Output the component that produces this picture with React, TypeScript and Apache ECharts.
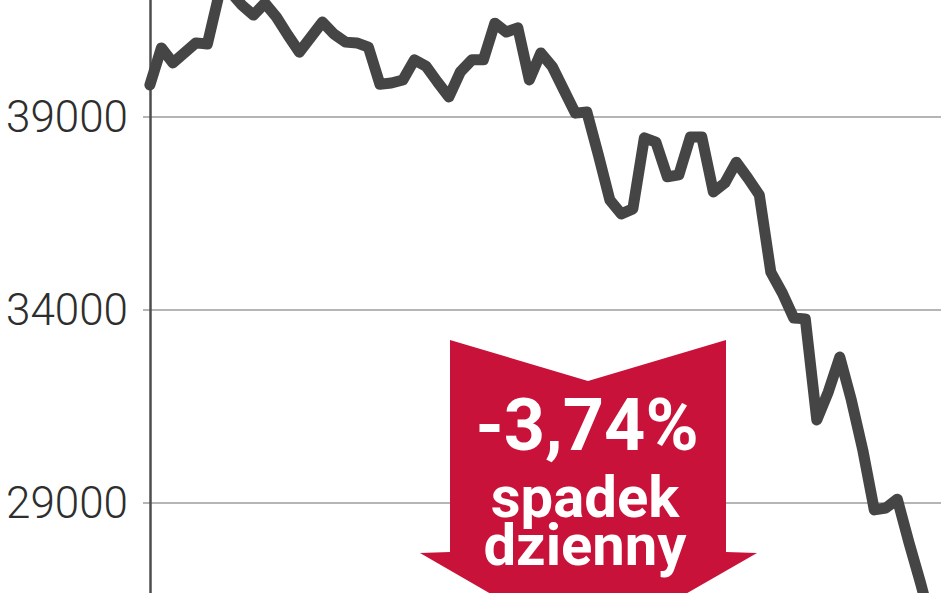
import React, { useEffect, useRef } from "react";
import * as echarts from "echarts";

// Index level by session (left to right)
const values: number[] = [
  39830, 40790, 40400, 40660, 40920, 40890, 42160, 42240, 41900, 41640,
  41950, 41590, 41120, 40680, 41070, 41460, 41150, 40940, 40920, 40810,
  39850, 39880, 39960, 40480, 40320, 39910, 39520, 40170, 40480, 40480,
  41430, 41200, 41310, 39960, 40660, 40300, 39700, 39100, 39130, 38020,
  36850, 36490, 36620, 38460, 38350, 37450, 37500, 38480, 38480, 37060,
  37290, 37830, 37420, 36980, 34980, 34440, 33790, 33770, 31150, 31880,
  32780, 31670, 30370, 28820, 28870, 29100, 27990, 26950, 25840,
];

const yTickLabels: string[] = ["29000", "34000", "39000"];

const badgeTexts: string[] = ["-3,74%", "spadek", "dzienny"];

export default function App() {
  const ref = useRef<HTMLDivElement>(null);

  useEffect(() => {
    if (!ref.current) return;
    const chart = echarts.init(ref.current, undefined, { renderer: "svg" });
    const data = values.map((v, i) => [i, v]);
    chart.setOption({
      animation: false,
      backgroundColor: "#ffffff",
      grid: {
        left: 143,
        top: -76,
        width: 798,
        height: 772,
        containLabel: false,
        outerBoundsMode: "none",
      },
      xAxis: {
        type: "value",
        min: -0.6,
        max: 68.8,
        show: false,
        splitLine: { show: false },
      },
      yAxis: {
        type: "value",
        min: 24000,
        max: 44000,
        interval: 5000,
        axisLine: { show: true, lineStyle: { color: "#4d4d4d", width: 2.5 } },
        axisTick: { show: false },
        splitLine: { show: true, lineStyle: { color: "#9c9c9c", width: 1.6 } },
        axisLabel: {
          show: true,
          margin: 15,
          color: "#2e2e2e",
          fontSize: 44,
          fontFamily: "Roboto",
          fontWeight: 300,
          formatter: (v: number) => (yTickLabels.includes(String(v)) ? String(v) : ""),
        },
      },
      series: [
        {
          type: "line",
          data,
          symbol: "none",
          clip: true,
          lineStyle: { color: "#454545", width: 11, cap: "round", join: "round" },
        },
      ],
      graphic: [
        {
          type: "polygon",
          shape: {
            points: [
              [450, 340],
              [588, 381],
              [726, 340],
              [726, 552],
              [757, 553],
              [588, 650],
              [420, 553],
              [450, 552],
            ],
          },
          style: { fill: "#c9123a" },
          z: 10,
        },
        {
          type: "text",
          x: 587,
          y: 425,
          style: {
            text: badgeTexts[0],
            fill: "#ffffff",
            fontSize: 72,
            fontWeight: "bold",
            fontFamily: "Roboto",
            align: "center",
            verticalAlign: "middle",
          },
          z: 11,
        },
        {
          type: "text",
          x: 585,
          y: 521,
          style: {
            text: badgeTexts[1] + "\n" + badgeTexts[2],
            fill: "#ffffff",
            fontSize: 58,
            lineHeight: 48,
            fontWeight: "bold",
            fontFamily: "Roboto",
            align: "center",
            verticalAlign: "middle",
          },
          z: 11,
        },
      ],
    });
    return () => chart.dispose();
  }, []);

  return (
    <div
      ref={ref}
      style={{ position: "absolute", left: 0, top: 0, width: 948, height: 593 }}
    />
  );
}
